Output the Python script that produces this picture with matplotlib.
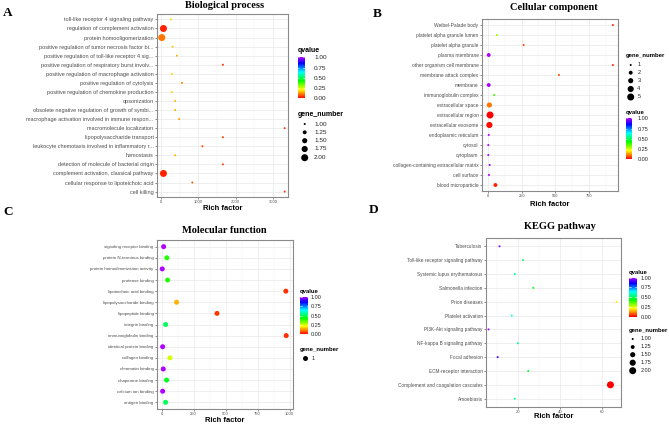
import numpy as np
import matplotlib
matplotlib.use('Agg')
import matplotlib.pyplot as plt
from matplotlib.colors import LinearSegmentedColormap, hsv_to_rgb
from matplotlib.cm import ScalarMappable
from matplotlib.colors import Normalize

# --- Data ---
bp_terms = ['toll-like receptor 4 signaling pathway',
            'regulation of complement activation',
            'protein homooligomerization',
            'positive regulation of tumor necrosis factor bi...',
            'positive regulation of toll-like receptor 4 sig...',
            'positive regulation of respiratory burst involv...',
            'positive regulation of macrophage activation',
            'positive regulation of cytolysis',
            'positive regulation of chemokine production',
            'opsonization',
            'obsolete negative regulation of growth of symbi...',
            'macrophage activation involved in immune respon...',
            'macromolecule localization',
            'lipopolysaccharide transport',
            'leukocyte chemotaxis involved in inflammatory r...',
            'hemostasis',
            'detection of molecule of bacterial origin',
            'complement activation, classical pathway',
            'cellular response to lipoteichoic acid',
            'cell killing']
bp_rich = [261, 63, 18, 306, 423, 1658, 288, 558, 288, 378,
           378, 486, 3315, 1658, 1108, 378, 1658, 63, 838, 3315]
bp_q = [0.18, 0.03, 0.10, 0.17, 0.15, 0.05, 0.18, 0.12, 0.18, 0.15,
        0.15, 0.13, 0.05, 0.06, 0.06, 0.15, 0.06, 0.03, 0.08, 0.05]
bp_genes = [1, 2, 2, 1, 1, 1, 1, 1, 1, 1, 1, 1, 1, 1, 1, 1, 1, 2, 1, 1]

cc_terms = ['Weibel-Palade body', 'platelet alpha granule lumen',
            'platelet alpha granule', 'plasma membrane',
            'other organism cell membrane', 'membrane attack complex',
            'membrane', 'immunoglobulin complex', 'extracellular space',
            'extracellular region', 'extracellular exosome',
            'endoplasmic reticulum', 'cytosol', 'cytoplasm',
            'collagen-containing extracellular matrix', 'cell surface',
            'blood microparticle']
cc_rich = [930, 67, 265, 5, 930, 528, 5, 45, 10, 15, 10, 5, 2, 2, 12, 7, 55]
cc_q = [0.04, 0.30, 0.06, 1.0, 0.04, 0.06, 1.0, 0.38, 0.10, 0.0, 0.01,
        1.0, 1.0, 1.0, 0.97, 1.0, 0.03]
cc_genes = [1, 1, 1, 2, 1, 1, 2, 1, 3, 5, 4, 1, 1, 1, 1, 1, 2]

mf_terms = ['signaling receptor binding', 'protein N-terminus binding',
            'protein homodimerization activity', 'protease binding',
            'lipoteichoic acid binding', 'lipopolysaccharide binding',
            'lipopeptide binding', 'integrin binding',
            'immunoglobulin binding', 'identical protein binding',
            'collagen binding', 'chromatin binding', 'chaperone binding',
            'calcium ion binding', 'antigen binding']
mf_rich = [16, 41, 5, 47, 971, 117, 433, 31, 974, 8, 65, 13, 39, 8, 31]
mf_q = [1.0, 0.40, 1.0, 0.40, 0.04, 0.15, 0.05, 0.50, 0.04, 1.0,
        0.25, 1.0, 0.45, 1.0, 0.50]
mf_genes = [1] * 15

kegg_terms = ['Tuberculosis', 'Toll-like receptor signaling pathway',
              'Systemic lupus erythematosus', 'Salmonella infection',
              'Prion diseases', 'Platelet activation',
              'PI3K-Akt signaling pathway', 'NF-kappa B signaling pathway',
              'Focal adhesion', 'ECM-receptor interaction',
              'Complement and coagulation cascades', 'Amoebiasis']
kegg_rich = [11.3, 22.4, 18.5, 27.3, 66.7, 17.1, 6.1, 20.0, 10.4, 24.9, 63.8, 18.5]
kegg_q = [0.98, 0.50, 0.55, 0.45, 0.20, 0.62, 1.0, 0.55, 0.92, 0.45, 0.0, 0.55]
kegg_genes = [1, 1, 1, 1, 1, 1, 1, 1, 1, 1, 2, 1]

q_ticks = [0.0, 0.25, 0.5, 0.75, 1.0]
bp_size_legend = [1.00, 1.25, 1.50, 1.75, 2.00]
cc_size_legend = [1, 2, 3, 4, 5]
mf_size_legend = [1]
kegg_size_legend = [1.00, 1.25, 1.50, 1.75, 2.00]

# --- Setup ---
W, H = 669, 424
DPI = 100
fig = plt.figure(figsize=(W / DPI, H / DPI), dpi=DPI)
SANS = 'Liberation Sans'
SERIF = 'Liberation Serif'

hues = np.linspace(0, 0.78, 64)
cmap = LinearSegmentedColormap.from_list(
    'qv', [hsv_to_rgb((h, 1, 1)) for h in hues])
norm = Normalize(0, 1)


def rect(x0, y0, x1, y1):
    return [x0 / W, 1 - y1 / H, (x1 - x0) / W, (y1 - y0) / H]


def pt_area(d_px):
    d = np.asarray(d_px, float) * 72.0 / DPI
    return d ** 2


def diam(v, vmin, vmax, dmin=2.0, dmax=7.0):
    v = np.asarray(v, float)
    if vmax == vmin:
        return np.full(v.shape, 5.0)
    a = dmin ** 2 + (v - vmin) / (vmax - vmin) * (dmax ** 2 - dmin ** 2)
    return np.sqrt(a)


def panel(box, terms, rich, q, genes, xlim, xticks, minor, ylab_fs, xtick_fs,
          title, title_xy, xlabel_y, size_rng):
    ax = fig.add_axes(rect(*box))
    n = len(terms)
    ypos = np.arange(n)[::-1]
    ax.set_xlim(*xlim)
    ax.set_ylim(-0.6, n - 1 + 0.6)
    for t in xticks:
        ax.axvline(t, color='#EBEBEB', lw=0.6, zorder=0)
    for t in minor:
        ax.axvline(t, color='#F2F2F2', lw=0.35, zorder=0)
    for y in ypos:
        ax.axhline(y, color='#EBEBEB', lw=0.6, zorder=0)
    d = diam(genes, *size_rng)
    ax.scatter(rich, ypos, s=pt_area(d), c=q, cmap=cmap, norm=norm,
               linewidths=0, zorder=3)
    ax.set_yticks(ypos)
    ax.set_yticklabels(terms, fontsize=ylab_fs, family=SANS, color='#4D4D4D')
    ax.set_xticks(xticks)
    ax.set_xticklabels([str(t) for t in xticks], fontsize=xtick_fs,
                       family=SANS, color='#4D4D4D')
    ax.tick_params(length=1.5, width=0.4, color='#333333', pad=1)
    for s in ax.spines.values():
        s.set_color('#8A8A8A')
        s.set_linewidth(0.8)
    cx = (box[0] + box[2]) / 2
    fig.text(cx / W, 1 - xlabel_y / H, 'Rich factor', ha='center',
             va='center', fontsize=5.4, family=SANS, fontweight='bold')
    fig.text(title_xy[0] / W, 1 - title_xy[1] / H, title, ha='center',
             va='center', fontsize=7.5, family=SERIF, fontweight='bold')
    return ax


panel((157, 14, 288, 197), bp_terms, bp_rich, bp_q, bp_genes,
      (-110, 3405), [0, 1000, 2000, 3000], [500, 1500, 2500], 4.0, 3.0,
      'Biological process', (225, 5), 208, (1, 2))
panel((482, 19, 618, 191), cc_terms, cc_rich, cc_q, cc_genes,
      (-45, 968), [0, 250, 500, 750], [125, 375, 625, 875], 3.55, 2.9,
      'Cellular component', (554, 8), 204, (1, 5))
panel((157, 240, 293, 409), mf_terms, mf_rich, mf_q, mf_genes,
      (-36, 1027), [0, 250, 500, 750, 1000], [125, 375, 625, 875], 3.2, 3.0,
      'Molecular function', (224.5, 231), 420, (1, 1))
panel((486, 238, 621, 407), kegg_terms, kegg_rich, kegg_q, kegg_genes,
      (4.9, 68.8), [20, 40, 60], [10, 30, 50], 3.45, 3.0,
      'KEGG pathway', (559.7, 226.7), 417, (1, 2))

# panel letters
for lab, x, y in [('A', 8, 13), ('B', 377, 14), ('C', 8, 212), ('D', 374, 210)]:
    fig.text(x / W, 1 - y / H, lab, ha='center', va='center', fontsize=9.5,
             family=SERIF, fontweight='bold')

# --- Legends ---
ov = fig.add_axes([0, 0, 1, 1], zorder=10)
ov.set_xlim(0, W)
ov.set_ylim(H, 0)
ov.axis('off')


def qlegend(x0, y0, x1, y1, title_y, lab_x, tfs, lfs):
    cax = fig.add_axes(rect(x0, y0, x1, y1))
    cb = fig.colorbar(ScalarMappable(norm=norm, cmap=cmap), cax=cax)
    cb.outline.set_visible(False)
    cb.set_ticks(q_ticks)
    cb.set_ticklabels(['%.2f' % t for t in q_ticks])
    cax.tick_params(length=0, labelsize=lfs, pad=(lab_x - x1) * 0.72,
                    labelcolor='#222222')
    for t in cax.get_yticklabels():
        t.set_family(SANS)
    for t in q_ticks:
        cax.axhline(t, xmin=0, xmax=0.2, color='white', lw=0.4)
        cax.axhline(t, xmin=0.8, xmax=1, color='white', lw=0.4)
    ov.text(x0, title_y, 'qvalue', ha='left', va='center', fontsize=tfs,
            family=SANS, fontweight='bold')


def slegend(values, labels, title_x, title_y, dot_x, ys, lab_x, rng, tfs, lfs):
    ov.text(title_x, title_y, 'gene_number', ha='left', va='center',
            fontsize=tfs, family=SANS, fontweight='bold')
    d = diam(values, *rng)
    ov.scatter([dot_x] * len(values), ys, s=pt_area(d), color='black',
               linewidths=0)
    for lab, y in zip(labels, ys):
        ov.text(lab_x, y, lab, ha='left', va='center', fontsize=lfs,
                family=SANS, color='#222222')


# A
qlegend(298, 57.3, 304.5, 98.3, 51, 314, 5.0, 4.6)
slegend(bp_size_legend, ['%.2f' % v for v in bp_size_legend], 298, 115,
        304.7, [124, 132.3, 140.7, 149, 157.7], 314, (1, 2), 5.0, 4.6)
# B
slegend(cc_size_legend, [str(v) for v in cc_size_legend], 625.7, 55.7,
        630.7, [65, 72.7, 80.7, 89, 97], 637.3, (1, 5), 4.3, 4.0)
qlegend(625.7, 118.3, 632.3, 159.3, 112.3, 637.3, 4.3, 4.0)
# C
qlegend(300, 296.7, 308.3, 334.3, 291, 311, 4.3, 4.0)
slegend(mf_size_legend, ['1'], 300, 350, 305, [358.3], 311.7, (1, 1), 4.3, 4.0)
# D
qlegend(629, 277.7, 637, 316.7, 272.3, 641, 4.3, 4.0)
slegend(kegg_size_legend, ['%.2f' % v for v in kegg_size_legend], 629,
        330.7, 632.7, [339, 347, 354.7, 362.7, 370.7], 641, (1, 2), 4.3, 4.0)

fig.savefig('out.png', dpi=DPI)
